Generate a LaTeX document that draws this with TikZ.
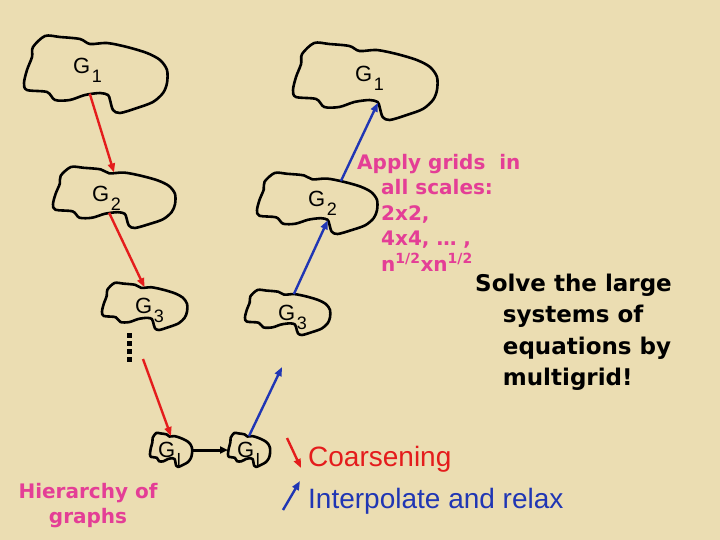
\documentclass[tikz,border=0pt]{standalone}
\usepackage{fontspec}
\setmainfont{Liberation Sans}
\newfontfamily\dejavu{DejaVu Sans}
\usetikzlibrary{arrows.meta}

\definecolor{parch}{RGB}{235,221,178}
\definecolor{cred}{RGB}{228,28,28}
\definecolor{cblue}{RGB}{32,54,180}
\definecolor{cpink}{RGB}{228,62,150}

\newcommand\gsub[1]{\kern1.5pt\raisebox{-9pt}{\fontsize{18}{18}\selectfont #1}}

\tikzset{
  pics/blob/.style={code={
    \draw[line width=2.6pt, line join=round] plot[smooth cycle, tension=0.5] coordinates {
      (-0.874,-0.714) (-0.706,-1.0) (-0.497,-0.974) (-0.217,-0.922) (-0.077,-0.792)
      (0.161,-0.818) (0.441,-0.714) (0.720,-0.558) (0.902,-0.377) (1.0,-0.117)
      (1.0,0.221) (0.944,0.481) (0.804,0.714) (0.580,0.870) (0.343,1.0)
      (0.245,0.922) (0.203,0.662) (0.175,0.532) (0.063,0.481) (-0.147,0.532)
      (-0.357,0.662) (-0.566,0.662) (-0.678,0.455) (-0.958,0.403) (-1.0,0.221)
      (-0.958,-0.117) (-0.888,-0.455)};
    \coordinate (-n) at (0,-0.82);
    \coordinate (-nr) at (0.15,-0.82);
    \coordinate (-ne) at (0.4,-0.74);
    \coordinate (-s) at (-0.08,0.5);
    \coordinate (-notch) at (0.18,0.55);
    \coordinate (-e) at (1,0);
    \coordinate (-w) at (-1,0);
  }}
}

\begin{document}
\begin{tikzpicture}[x=1pt, y=-1pt,
    glabel/.style={anchor=base west, inner sep=0pt, font=\fontsize{22}{26}\selectfont},
    redarr/.style={-{Triangle[length=9pt,width=7pt]}, line width=2.4pt, cred},
    bluearr/.style={-{Triangle[length=9pt,width=7pt]}, line width=2.4pt, cblue},
    pinktxt/.style={inner sep=0pt, text=cpink,
                    font=\dejavu\bfseries\fontsize{20}{25.5}\selectfont},
    solvetxt/.style={inner sep=0pt, align=left,
                     font=\dejavu\bfseries\fontsize{23}{31.5}\selectfont},
    legtxt/.style={anchor=base west, inner sep=0pt, font=\fontsize{28}{32}\selectfont}
]
\fill[parch] (0,0) rectangle (720,540);
\useasboundingbox (0,0) rectangle (720,540);

% graph outlines
\pic[xscale=71.5, yscale=38.5] (g1l) at (95.5,74.5) {blob};
\pic[xscale=72, yscale=38.5] (g1r) at (365,81.5) {blob};
\pic[xscale=61, yscale=30.5] (g2l) at (114,197.5) {blob};
\pic[xscale=60, yscale=30.5] (g2r) at (317,203.5) {blob};
\pic[xscale=42.5, yscale=23.5] (g3l) at (144.5,306.5) {blob};
\pic[xscale=42.5, yscale=22.5] (g3r) at (287.5,312.5) {blob};
\pic[xscale=21, yscale=17] (gll) at (171,450) {blob};
\pic[xscale=21, yscale=17] (glr) at (249,450) {blob};

\node[glabel] (t1l) at (73,74) {G\gsub{1}};
\node[glabel] (t1r) at (355,82) {G\gsub{1}};
\node[glabel] (t2l) at (92,202) {G\gsub{2}};
\node[glabel] (t2r) at (308,207) {G\gsub{2}};
\node[glabel] (t3l) at (135,313) {G\gsub{3}};
\node[glabel] (t3r) at (278,320) {G\gsub{3}};
\node[glabel] (tll) at (158,457) {G\gsub{l}};
\node[glabel] (tlr) at (237,457) {G\gsub{l}};

\coordinate (d1) at (129,333);
\coordinate (d2) at (129,362);
\coordinate (r3) at (143,359);
\coordinate (b1) at (282,367);

% coarsening
\draw[redarr] (g1l-s) -- (g2l-n);
\draw[redarr] (g2l-s) -- (g3l-n);
\draw[line width=5pt, dash pattern=on 5pt off 3pt] (d1) -- (d2);
\draw[redarr] (r3) -- (gll-n);
\draw[-{Triangle[length=8pt,width=7pt]}, line width=3pt] (gll-e) -- (glr-w);

% interpolation
\draw[bluearr] (glr-n) -- (b1);
\draw[bluearr] (g3r-nr) -- (g2r-notch);
\draw[bluearr] (g2r-ne) -- (g1r-notch);

\node[pinktxt, align=left, anchor=base west] (apply) at (381,271)
  {\hspace*{-24pt}Apply grids~ in\\all scales:\\2x2,\\4x4, … ,\\n\textsuperscript{1/2}xn\textsuperscript{1/2}};
\node[solvetxt, anchor=base west] (solve) at (502.7,385.5)
  {\hspace*{-27.7pt}Solve the large\\systems of\\equations by\\multigrid!};
\node[pinktxt, align=center, anchor=base] (hier) at (88,523.5) {Hierarchy of\\graphs};

% legend
\coordinate (cr1) at (287,438);
\coordinate (cr2) at (301,468);
\coordinate (cb1) at (283,510);
\coordinate (cb2) at (300,481);
\draw[redarr] (cr1) -- (cr2);
\draw[bluearr] (cb1) -- (cb2);
\node[legtxt, text=cred] (coarse) at (308,466) {Coarsening};
\node[legtxt, text=cblue] (interp) at (308,508) {Interpolate and relax};
\end{tikzpicture}
\end{document}
